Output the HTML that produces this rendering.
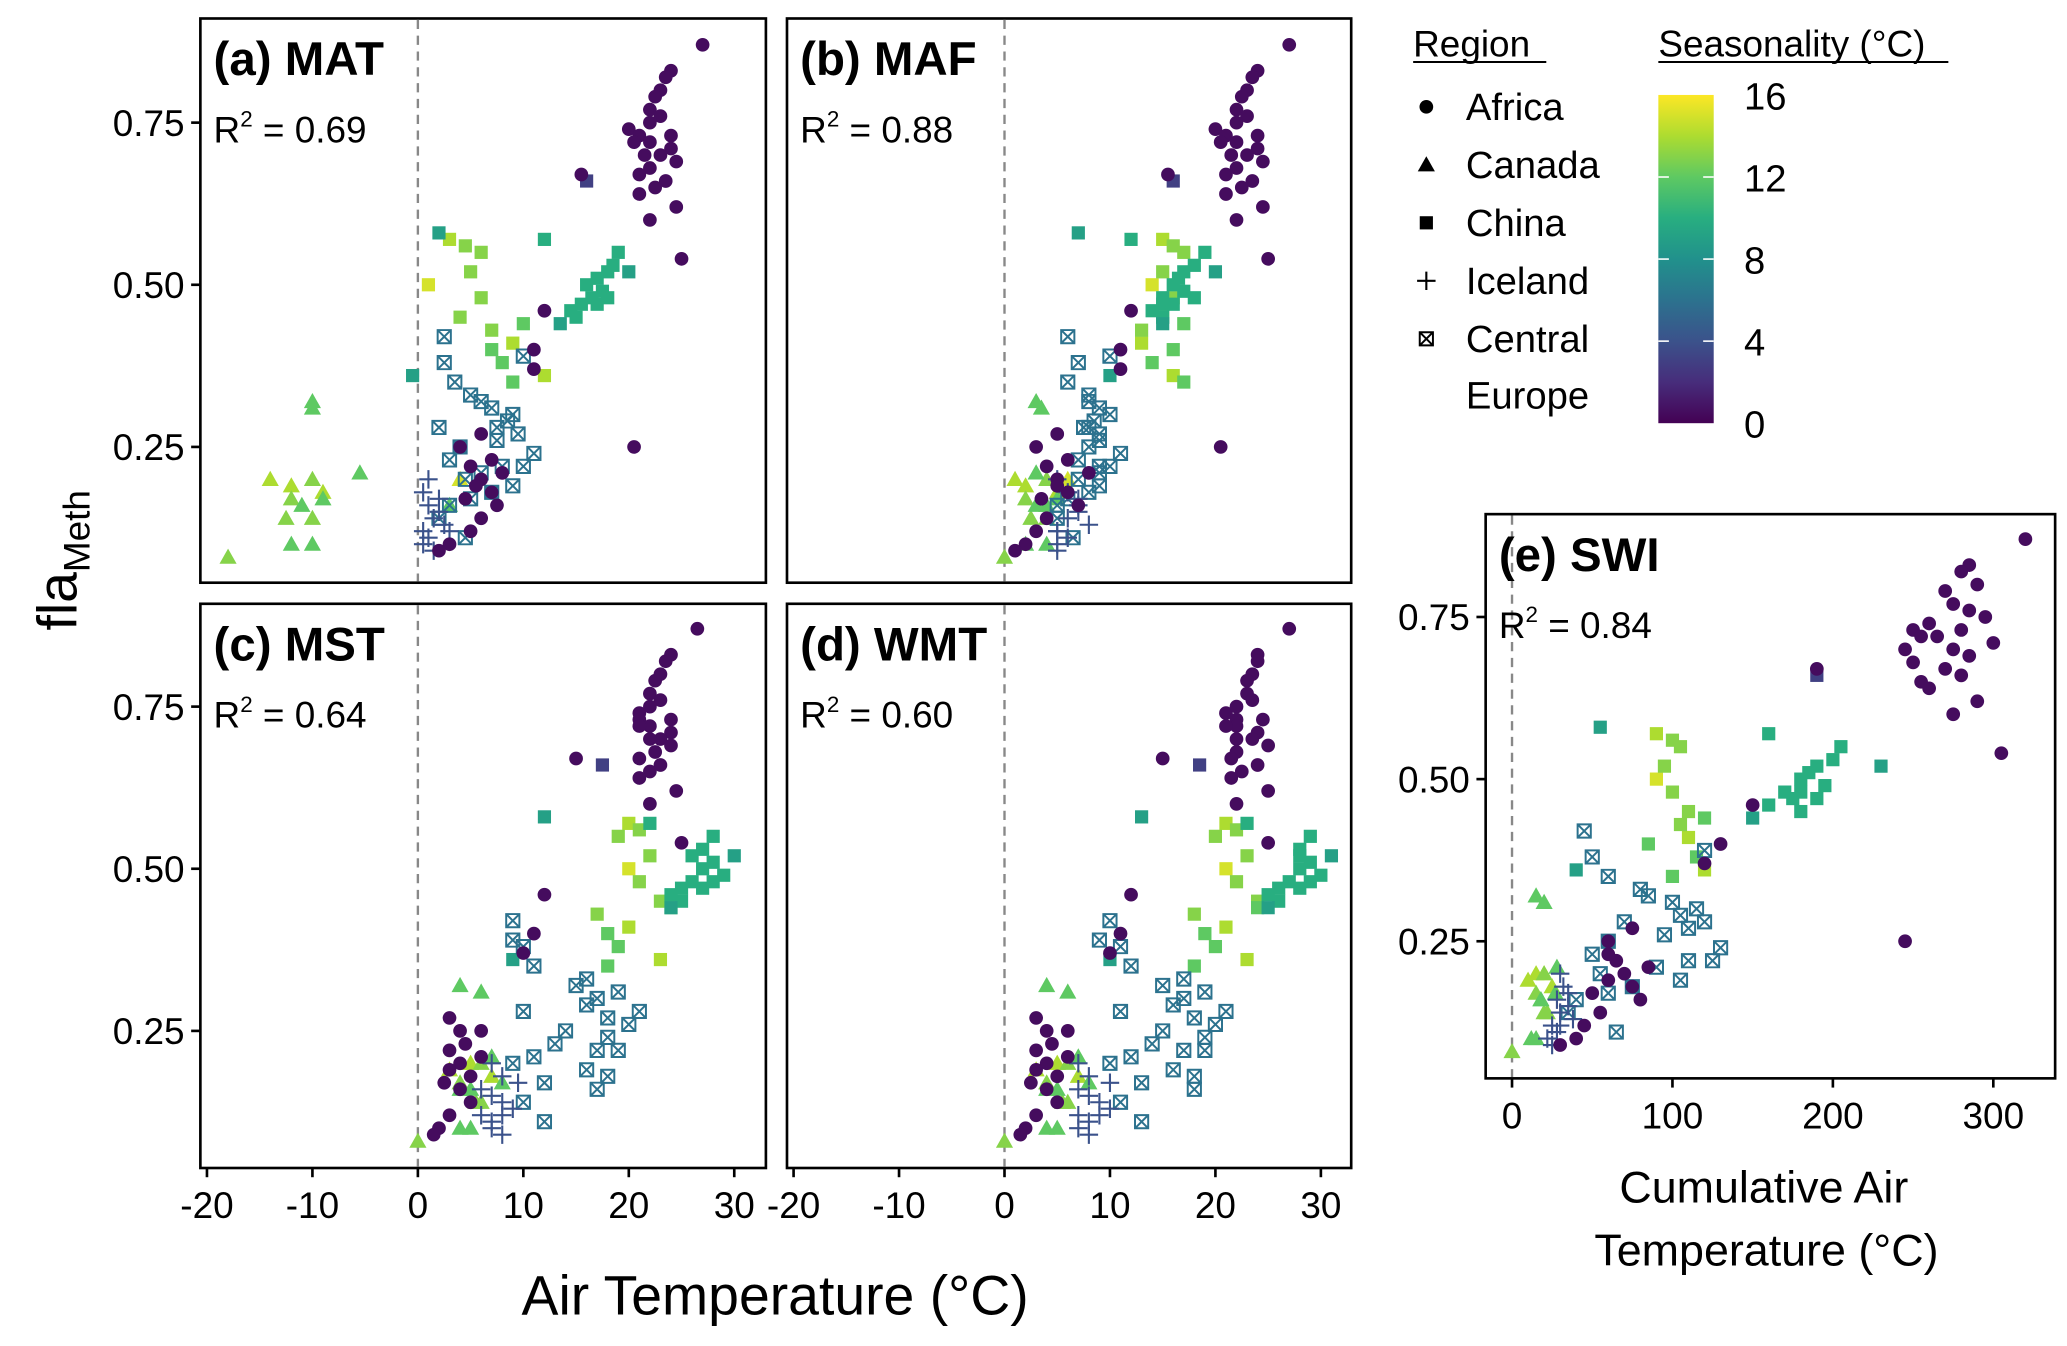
<!DOCTYPE html>
<html><head><meta charset="utf-8"><style>
html,body{margin:0;padding:0;background:#fff;}
svg{display:block;font-family:"Liberation Sans",sans-serif;}
</style></head><body>
<svg id="chart" width="2067" height="1346" viewBox="0 0 1568 1021" xmlns="http://www.w3.org/2000/svg">
<defs>
<linearGradient id="vir" x1="0" y1="1" x2="0" y2="0">
<stop offset="0" stop-color="#440154"/><stop offset="0.125" stop-color="#472d7b"/><stop offset="0.25" stop-color="#3b528b"/><stop offset="0.375" stop-color="#2c728e"/><stop offset="0.5" stop-color="#21918c"/><stop offset="0.625" stop-color="#28ae80"/><stop offset="0.75" stop-color="#5ec962"/><stop offset="0.875" stop-color="#addc30"/><stop offset="1" stop-color="#fde725"/>
</linearGradient>
</defs>
<g id="root"></g>
</svg>
<script>
// Region codes: A Africa, N Canada, H China, I Iceland, E Central Europe
const region = [];
const seasonality = [];
const fla = [];
const mat = [];
const maf = [];
const mst = [];
const wmt = [];
const swi = [];
const samples = [
["A",0.5,0.87,27,27,26.5,27,320],["A",0.5,0.83,24,24,24,24,285],["A",0.5,0.82,23.5,23.5,23.5,24,280],["A",0.5,0.80,23,23,23,23.5,290],
["A",0.5,0.79,22.5,22.5,22.5,23,270],["A",0.5,0.77,22,22,22,23,275],["A",0.5,0.76,23,23,23,23.5,285],["A",0.5,0.74,20,20,21,21,260],
["A",0.5,0.73,21,21,21,22,250],["A",0.5,0.72,22,22,22,22,265],["A",0.5,0.71,24,24,24,24,300],["A",0.5,0.72,20.5,20.5,21,21,255],
["A",0.5,0.70,23,23,23,23.5,275],["A",0.5,0.70,21.5,21.5,22,22,245],["A",0.5,0.69,24.5,24.5,24,25,285],["A",0.5,0.68,22,22,22.5,22,250],
["A",0.5,0.67,21,21,21,21.5,270],["A",0.5,0.66,23.5,23.5,23,24,280],["A",0.5,0.65,22.5,22.5,22,22.5,255],["A",0.5,0.64,21,21,21,21.5,260],
["A",0.5,0.62,24.5,24.5,24.5,25,290],["A",0.5,0.60,22,22,22,22,275],["A",0.5,0.54,25,25,25,25,305],["A",0.5,0.73,24,24,24,24.5,280],
["A",0.5,0.75,22,22,22,22,295],["A",0.5,0.25,20.5,20.5,6,6,245],["A",0.5,0.67,15.5,15.5,15,15,190],["A",0.5,0.46,12,12,12,12,150],
["A",0.5,0.40,11,11,11,11,130],["A",0.5,0.37,11,11,10,10,120],
["A",0.5,0.25,4,3,4,4,60],["A",0.5,0.22,5,4,3,3,65],["A",0.5,0.20,6,5,4,4,70],["A",0.5,0.18,7,6,5,5,75],["A",0.5,0.16,7.5,7,4,4,80],
["A",0.5,0.14,6,4,5,5,55],["A",0.5,0.12,5,3,3,3,45],["A",0.5,0.10,3,2,2,2,40],["A",0.5,0.09,2,1,1.5,1.5,30],["A",0.5,0.21,8,8,6,6,85],
["A",0.5,0.19,5.5,5,3,3,60],["A",0.5,0.17,4.5,3.5,2.5,2.5,50],["A",0.5,0.27,6,5,3,3,75],["A",0.5,0.23,7,6,4.5,4.5,60],
["H",10,0.57,12,12,22,23,160],["H",10,0.55,19,19,28,29,205],["H",10,0.53,18.5,18,27,28,200],["H",10,0.52,18,17,26,28,190],
["H",10,0.51,17,16.5,28,29,185],["H",10,0.50,16,16,27,28,180],["H",10,0.49,17.5,17,29,30,195],["H",10,0.48,18,18,28,29,180],
["H",10,0.48,16.5,15,26,27,170],["H",10,0.47,15.5,15,25,26,175],["H",10,0.47,17,16,27,28,190],["H",10,0.46,14.5,14,24,25,160],
["H",10,0.45,15,15,25,26,180],["H",9,0.58,2,7,12,13,55],["H",9,0.52,20,20,30,31,230],["H",9,0.36,-0.5,10,9,10,40],["H",9,0.44,13.5,15,24,25,150],
["H",15,0.50,1,14,20,21,90],["H",14,0.57,3,15,20,21,90],["H",13,0.56,4.5,16,21,22,100],["H",13,0.55,6,17,19,20,105],
["H",13,0.52,5,15,22,23,95],["H",13,0.48,6,16,21,22,100],["H",13,0.45,4,15,23,24,110],["H",13,0.43,7,13,17,18,105],
["H",12,0.44,10,17,24,24,120],["H",12,0.40,7,16,18,19,85],["H",12,0.38,8,14,19,20,115],["H",12,0.35,9,17,18,18,100],
["H",14,0.41,9,13,20,21,110],["H",14,0.36,12,16,23,23,120],["H",3,0.66,16,16,17.5,18.5,190],
["E",6,0.42,2.5,6,9,10,45],["E",6,0.38,2.5,7,10,11,50],["E",6,0.35,3.5,6,11,12,60],["E",6,0.39,10,10,9,9,120],
["E",6,0.33,5,8,16,17,80],["E",6,0.31,7,9,19,19,100],["E",6,0.30,9,10,17,17,115],["E",6,0.28,2,8,10,11,70],
["E",6,0.27,9.5,9,18,18,110],["E",6,0.29,8.5,8.5,16,16,105],["E",6,0.26,7.5,9,20,20,95],["E",6,0.25,4,8,14,15,60],
["E",6,0.24,11,11,18,19,130],["E",6,0.23,3,7,13,14,50],["E",6,0.22,8,9,17,17,110],["E",6,0.22,10,10,19,19,125],
["E",6,0.21,6,9,11,12,90],["E",6,0.20,4.5,7,9,10,55],["E",6,0.19,9,9,16,16,105],["E",6,0.18,7,8,18,18,75],
["E",6,0.17,5,6,12,13,60],["E",6,0.16,3,5,17,18,40],["E",6,0.14,2,5,10,11,35],["E",6,0.11,4.5,6.5,12,13,65],
["E",6,0.32,6,8,15,15,85],["E",6,0.28,7.5,7.5,21,21,120],
["N",13,0.08,-18,0,0,0,0],["N",14,0.20,-14,1,5,5,15],["N",12,0.32,-10,3,4,4,15],["N",12,0.31,-10,3.5,6,6,20],
["N",14,0.19,-12,2,3,3,10],["N",13,0.17,-12,2,4,4,15],["N",12,0.16,-11,3,5,5,18],["N",13,0.14,-12.5,2.5,5.5,5.5,20],
["N",12,0.10,-12,2,4,4,12],["N",12,0.10,-10,4,5,5,15],["N",13,0.20,-10,4,6,6,20],["N",14,0.18,-9,5,7,7,25],
["N",13,0.14,-10,4,6,6,22],["N",12,0.21,-5.5,3,7,7,28],["N",12,0.17,-9,5,8,8,27],["N",15,0.20,4,6,5,5,20],["N",12,0.16,3,4,4,4,18],
["I",4,0.20,1,5,7,7,30],["I",4,0.18,0.5,6,8,8,32],["I",4,0.16,1,7,6,7,28],["I",4,0.15,2,7,7,8,35],["I",4,0.14,1.5,6,8,9,30],
["I",4,0.12,0.5,5,6,7,25],["I",4,0.11,1,6,7,8,28],["I",4,0.10,0.5,5,7,7,22],["I",4,0.09,1.5,5,8,8,25],["I",4,0.13,2.5,8,9,10,38],
["I",4,0.17,2,7,9.5,10,35],["I",4,0.12,3,5,8,9,30]
];
samples.forEach(r=>{region.push(r[0]);seasonality.push(r[1]);fla.push(r[2]);mat.push(r[3]);maf.push(r[4]);mst.push(r[5]);wmt.push(r[6]);swi.push(r[7]);});
const yTicks = [0.25,0.50,0.75];
const yTickLabels = ["0.25","0.50","0.75"];
const xTicksT = [-20,-10,0,10,20,30];
const xTicksS = [0,100,200,300];
const cbTicks = [0,4,8,12,16];

const NS="http://www.w3.org/2000/svg";
const root=document.getElementById('root');
function el(tag,attrs,parent){const e=document.createElementNS(NS,tag);for(const k in attrs)e.setAttribute(k,attrs[k]);(parent||root).appendChild(e);return e;}
const stops=[[0,[68,1,84]],[0.125,[71,45,123]],[0.25,[59,82,139]],[0.375,[44,114,142]],[0.5,[33,145,140]],[0.625,[40,174,128]],[0.75,[94,201,98]],[0.875,[173,220,48]],[1,[253,231,37]]];
function vir(v){let t=Math.max(0,Math.min(1,v/16));for(let i=1;i<stops.length;i++){if(t<=stops[i][0]){const a=stops[i-1],b=stops[i];const f=(t-a[0])/(b[0]-a[0]);const c=a[1].map((x,j)=>Math.round(x+(b[1][j]-x)*f));return `rgb(${c})`;}}return 'rgb(253,231,37)';}

function marker(g,reg,cx,cy,col){
  let m;
  if(reg==="A") m=el('circle',{cx,cy,r:5.2,fill:col},g);
  else if(reg==="N") m=el('polygon',{points:`${cx},${cy-6.5} ${cx+6.5},${cy+5} ${cx-6.5},${cy+5}`,fill:col},g);
  else if(reg==="H") m=el('rect',{x:cx-5,y:cy-5,width:10,height:10,fill:col},g);
  else if(reg==="I") m=el('path',{d:`M${cx-7},${cy}H${cx+7}M${cx},${cy-7}V${cy+7}`,stroke:col,'stroke-width':1.6,fill:'none'},g);
  else m=el('path',{d:`M${cx-5},${cy-5}h10v10h-10zM${cx-5},${cy-5}l10,10M${cx+5},${cy-5}l-10,10`,stroke:col,'stroke-width':1.5,fill:'none'},g);
  return m;
}

function panel(opts){
  const g=el('g',{});
  
  
  const {x0,x1,y0,y1,xz,xs,yz,ys}=opts;
  const X=v=>xz+v*xs, Y=v=>yz-(v-0.25)*ys;
  const frame=el('rect',{x:x0,y:y0,width:x1-x0,height:y1-y0,fill:'none',stroke:'#000','stroke-width':2},g);
  
  
  const zl=el('line',{x1:X(0),x2:X(0),y1:y0+1,y2:y1-1,stroke:'#888','stroke-width':1.8,'stroke-dasharray':'7,5'},g);
  
  
  const order=[];
  fla.forEach((f,i)=>order.push(i));
  order.sort((a,b)=>seasonality[b]-seasonality[a]);
  order.forEach(i=>{const m=marker(g,region[i],X(opts.xv[i]),Y(fla[i]),vir(seasonality[i]));
    
    });
  if(opts.yTicks){yTicks.forEach((t,k)=>{el('line',{x1:x0-7,x2:x0,y1:Y(t),y2:Y(t),stroke:'#000','stroke-width':2},g);
    const tx=el('text',{x:x0-12,y:Y(t)+10,'text-anchor':'end','font-size':28},g);tx.textContent=yTickLabels[k];
    
    });}
  if(opts.xTicks){opts.xTicks.forEach(t=>{el('line',{x1:X(t),x2:X(t),y1:y1,y2:y1+7,stroke:'#000','stroke-width':2},g);
    const tx=el('text',{x:X(t),y:y1+38,'text-anchor':'middle','font-size':28},g);tx.textContent=String(t);
    
    });}
  const tt=el('text',{x:x0+10,y:y0+43,'font-size':36,'font-weight':'bold'},g);tt.textContent=opts.title;
  
  
  const r2=el('text',{x:x0+10,y:y0+94,'font-size':28},g);
  r2.innerHTML='R<tspan font-size="17" dy="-12">2</tspan><tspan dy="12"> = '+opts.r2+'</tspan>';
  
  
}
panel({name:'panel-mat',key:'mat',title:'(a) MAT',r2:'0.69',x0:152,x1:581,y0:14,y1:442,xz:317,xs:8.0,yz:339,ys:492,xv:mat,yTicks:true});
panel({name:'panel-maf',key:'maf',title:'(b) MAF',r2:'0.88',x0:597,x1:1025,y0:14,y1:442,xz:762,xs:8.0,yz:339,ys:492,xv:maf});
panel({name:'panel-mst',key:'mst',title:'(c) MST',r2:'0.64',x0:152,x1:581,y0:458,y1:886,xz:317,xs:8.0,yz:782,ys:492,xv:mst,yTicks:true,xTicks:xTicksT});
panel({name:'panel-wmt',key:'wmt',title:'(d) WMT',r2:'0.60',x0:597,x1:1025,y0:458,y1:886,xz:762,xs:8.0,yz:782,ys:492,xv:wmt,xTicks:xTicksT});
panel({name:'panel-swi',key:'swi',title:'(e) SWI',r2:'0.84',x0:1127,x1:1559,y0:390,y1:818,xz:1147,xs:1.217,yz:714,ys:492,xv:swi,yTicks:true,xTicks:xTicksS});

function txt(x,y,s,size,name,extra){const t=el('text',Object.assign({x,y,'font-size':size},extra||{}));t.textContent=s;
  
  return t;}
const yl=el('text',{x:0,y:0,'font-size':42,'text-anchor':'middle',transform:'translate(58,425) rotate(-90)'});
yl.innerHTML='fla<tspan font-size="28" dy="10">Meth</tspan>';


txt(588,997,'Air Temperature (°C)',42,'x-axis-title',{'text-anchor':'middle'});
txt(1338,912,'Cumulative Air',34,'x-axis-title-swi',{'text-anchor':'middle'});
txt(1340,960,'Temperature (°C)',34,'x-axis-title-swi-2',{'text-anchor':'middle'});

// legend
const lg=el('g',{});


txt(1072,43,'Region',28,'legend-title');
el('line',{x1:1072,x2:1173,y1:47,y2:47,stroke:'#000','stroke-width':1.5});
const regs=[["A","Africa"],["N","Canada"],["H","China"],["I","Iceland"],["E","Central"]];
regs.forEach((r,k)=>{const y=81+k*44;const m=marker(lg,r[0],1082,y,'#000');
  
  
  txt(1112,y+10,r[1],29,'legend-entry');});
txt(1112,310,'Europe',29,'legend-entry');
txt(1258,43,'Seasonality (°C)',28,'colorbar-title');
el('line',{x1:1258,x2:1478,y1:47,y2:47,stroke:'#000','stroke-width':1.5});
const cb=el('rect',{x:1258,y:72,width:42,height:249,fill:'url(#vir)'});


cbTicks.forEach(t=>{const y=321-t*249/16;
  if(t>0&&t<16){el('line',{x1:1258,x2:1266,y1:y,y2:y,stroke:'#fff','stroke-width':1.2});el('line',{x1:1292,x2:1300,y1:y,y2:y,stroke:'#fff','stroke-width':1.2});}
  txt(1323,y+11,String(t),29,'colorbar-tick-label');});
</script>
</body></html>
